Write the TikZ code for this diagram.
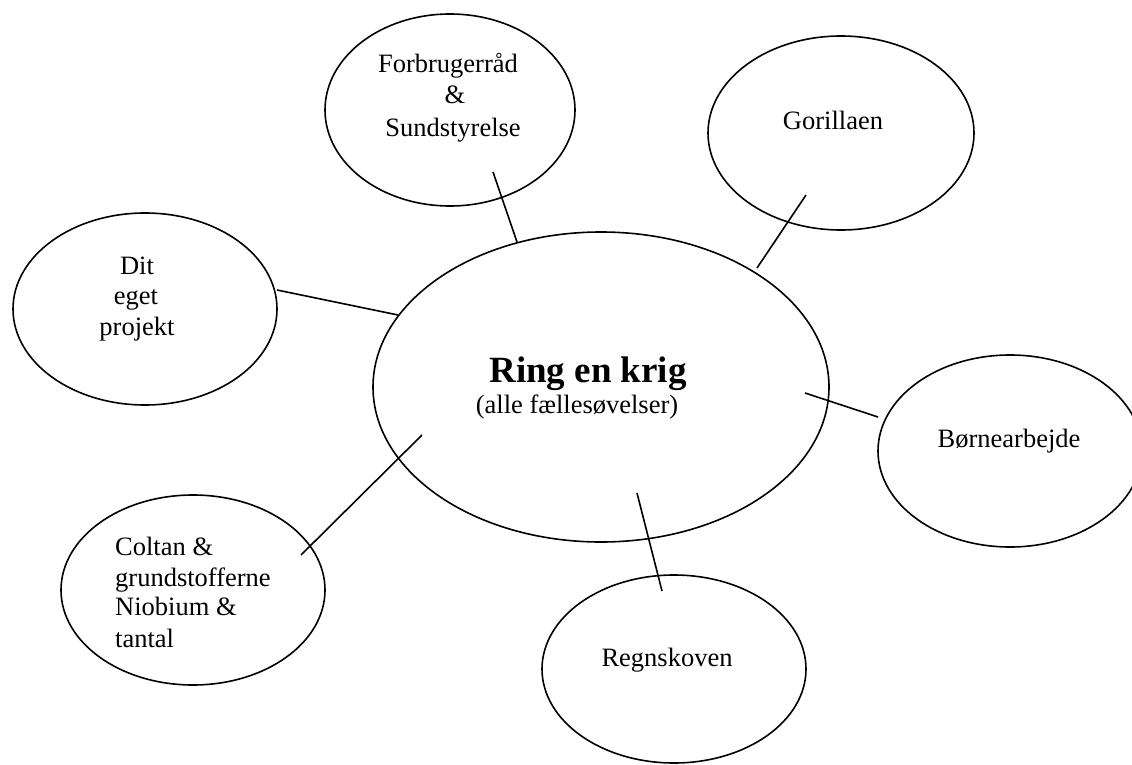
\documentclass[tikz,border=0pt]{standalone}
\usepackage{fontspec}
\setmainfont{Liberation Serif}
\usetikzlibrary{shapes.geometric}
\tikzset{
  bubble/.style={draw=black, line width=1.6pt, ellipse, inner sep=0pt,
    minimum width=264pt, minimum height=192pt},
  hub/.style={bubble, minimum width=456pt, minimum height=310pt},
  lbl/.style={inner sep=0pt, font=\fontsize{26.5}{30}\selectfont, anchor=base},
  lblw/.style={lbl, anchor=base west},
  ttl/.style={inner sep=0pt, font=\fontsize{37}{40}\selectfont\bfseries, anchor=base},
  link/.style={draw=black, line width=1.6pt}
}
\begin{document}
\begin{tikzpicture}[x=1pt, y=-1pt]
\useasboundingbox (0,0) rectangle (1132,765);
\fill[white] (0,0) rectangle (1132,765);
\begin{scope}
\clip (0,0) rectangle (1132,765);
% ellipses
\node[hub] (hubE) at (601,387) {};
\node[bubble, minimum width=250pt] (forbE) at (450,110) {};
\node[bubble, minimum width=266pt, minimum height=194pt] (goriE) at (841,133) {};
\node[bubble] (ditE) at (145,309) {};
\node[bubble] (bornE) at (1010,451) {};
\node[bubble, minimum height=190pt] (coltE) at (193,590) {};
\node[bubble, minimum height=188pt] (regnE) at (674,669) {};
\end{scope}
% texts
\node[ttl] (t0) at (588,382) {Ring en krig};
\node[lbl] (t0b) at (577,413) {(alle fællesøvelser)};
\node[lbl] (t1a) at (448,73) {Forbrugerråd};
\node[lbl] (t1b) at (455,104) {\&};
\node[lbl] (t1c) at (453,136) {Sundstyrelse};
\node[lbl] (t2) at (833,130) {Gorillaen};
\node[lbl] (t3a) at (137,274) {Dit};
\node[lbl] (t3b) at (136,304) {eget};
\node[lbl] (t3c) at (137,335) {projekt};
\node[lbl] (t4) at (1009,447) {Børnearbejde};
\node[lblw] (t5a) at (115,555) {Coltan \&};
\node[lblw] (t5b) at (115,586) {grundstofferne};
\node[lblw] (t5c) at (115,615) {Niobium \&};
\node[lblw] (t5d) at (115,647) {tantal};
\node[lbl] (t6) at (667,666) {Regnskoven};
% connector ends
\coordinate (c1a) at (493,172); \coordinate (c1b) at (517,242);
\coordinate (c2a) at (806,195); \coordinate (c2b) at (757,268);
\coordinate (c3a) at (277,290); \coordinate (c3b) at (398,315);
\coordinate (c4a) at (805,393); \coordinate (c4b) at (878,417);
\coordinate (c5a) at (301,555); \coordinate (c5b) at (422,435);
\coordinate (c6a) at (637,493); \coordinate (c6b) at (662,591);
\draw[link] (c1a) -- (c1b);
\draw[link] (c2a) -- (c2b);
\draw[link] (c3a) -- (c3b);
\draw[link] (c4a) -- (c4b);
\draw[link] (c5a) -- (c5b);
\draw[link] (c6a) -- (c6b);
\end{tikzpicture}
\end{document}
